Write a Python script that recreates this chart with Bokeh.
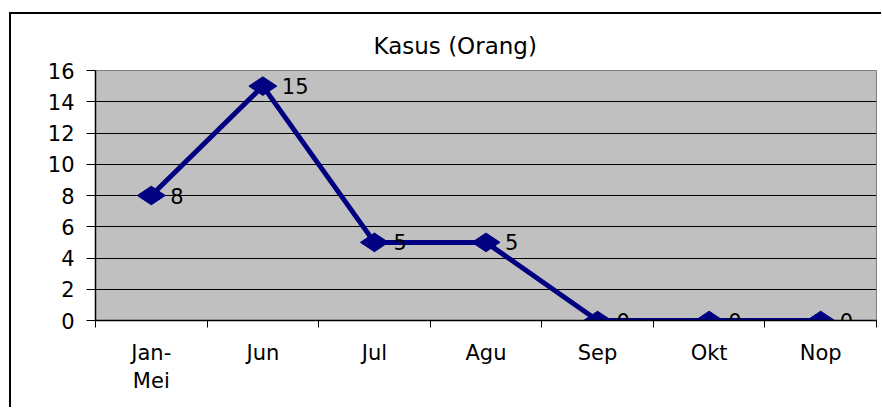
from bokeh.plotting import figure
from bokeh.models import ColumnDataSource, FixedTicker, Range1d, Title
from bokeh.core.properties import value
from bokeh.embed import file_html
from bokeh.resources import INLINE

categories = ["Jan-\nMei", "Jun", "Jul", "Agu", "Sep", "Okt", "Nop"]
kasus = [8, 15, 5, 5, 0, 0, 0]
y_ticks = [0, 2, 4, 6, 8, 10, 12, 14, 16]
title_text = "Kasus (Orang)"

FONT = "DejaVu Sans"
NAVY = "#000080"

xpos = [i + 0.5 for i in range(len(categories))]
src = ColumnDataSource(dict(x=xpos, y=kasus, lbl=[str(v) for v in kasus]))

p = figure(width=872, height=395, output_backend="svg", toolbar_location=None,
           x_range=Range1d(0, len(categories)), y_range=Range1d(0, 16),
           min_border_left=84, min_border_right=7, min_border_top=56, min_border_bottom=89)
p.styles = {"border-left": "2px solid black", "border-top": "2px solid black",
            "margin-left": "9px", "margin-top": "12px"}
p.background_fill_color = "#C0C0C0"
p.border_fill_color = "white"
p.outline_line_color = "#808080"
p.outline_line_width = 1

p.add_layout(Title(text=title_text, align="left", offset=278, standoff=24,
                   text_font=FONT, text_font_size="23px", text_font_style="normal",
                   text_color="black"), "above")

p.xgrid.grid_line_color = None
p.ygrid.grid_line_color = "black"
p.ygrid.grid_line_width = 1
p.ygrid.ticker = FixedTicker(ticks=y_ticks)

# y axis
p.yaxis.ticker = FixedTicker(ticks=y_ticks)
p.yaxis.major_tick_out = 9
p.yaxis.major_tick_in = 0
p.yaxis.minor_tick_line_color = None
p.yaxis.axis_line_color = "black"
p.yaxis.axis_line_width = 1.5
p.yaxis.major_tick_line_color = "black"
p.yaxis.major_label_standoff = 12
p.yaxis.major_label_text_font = FONT
p.yaxis.major_label_text_font_size = "21px"
p.yaxis.major_label_text_color = "black"

# x axis: labels at category centres, ticks at boundaries
p.xaxis.ticker = FixedTicker(ticks=xpos, minor_ticks=list(range(len(categories) + 1)))
p.xaxis.major_label_overrides = {x: c for x, c in zip(xpos, categories)}
p.xaxis.major_tick_line_color = None
p.xaxis.major_tick_out = 0
p.xaxis.major_tick_in = 0
p.xaxis.minor_tick_out = 7
p.xaxis.minor_tick_in = 0
p.xaxis.minor_tick_line_color = "black"
p.xaxis.axis_line_color = "black"
p.xaxis.axis_line_width = 1.5
p.xaxis.major_label_standoff = 13
p.xaxis.major_label_text_font = FONT
p.xaxis.major_label_text_font_size = "21px"
p.xaxis.major_label_text_color = "black"

p.line("x", "y", source=src, line_color=NAVY, line_width=5)
p.scatter("x", "y", source=src, marker="diamond", size=28, angle=1.5708,
          fill_color=NAVY, line_color=NAVY)
p.text("x", "y", text="lbl", source=src, x_offset=19, text_align="left",
       text_baseline="middle", text_font=value(FONT), text_font_size="21px",
       text_color="black")

open("out.html", "w").write(file_html(p, INLINE))
